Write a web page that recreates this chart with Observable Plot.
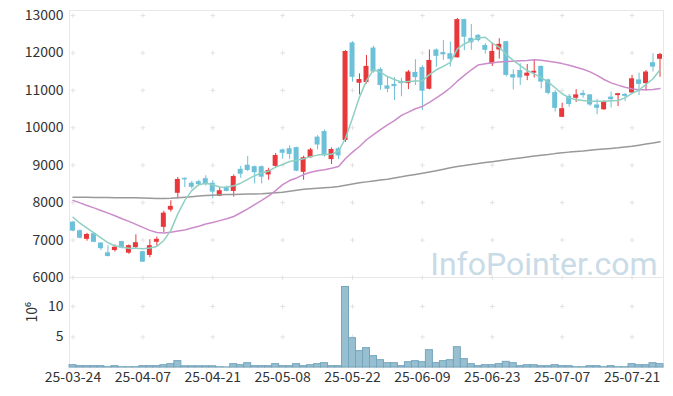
<!DOCTYPE html>
<html><head><meta charset="utf-8">
<script src="https://cdn.jsdelivr.net/npm/d3@7"></script>
<script src="https://cdn.jsdelivr.net/npm/@observablehq/plot@0.6"></script>
<style>
body{margin:0;background:#fff;}
#wrap{position:relative;width:673px;height:396px;overflow:hidden;background:#fff;}
#price,#vol{position:absolute;left:0;}
#price{top:0;z-index:2;}
#vol{top:277px;z-index:1;}
svg{overflow:visible;}
</style></head><body>
<div id="wrap"><div id="vol"></div><div id="price"></div></div>
<script>
const dates = ["25-03-24","25-03-25","25-03-26","25-03-27","25-03-28","25-03-31","25-04-01","25-04-02","25-04-03","25-04-04",
"25-04-07","25-04-08","25-04-09","25-04-10","25-04-11","25-04-14","25-04-15","25-04-16","25-04-17","25-04-18",
"25-04-21","25-04-22","25-04-23","25-04-24","25-04-25","25-04-28","25-04-29","25-04-30","25-05-02","25-05-07",
"25-05-08","25-05-09","25-05-12","25-05-13","25-05-14","25-05-15","25-05-16","25-05-19","25-05-20","25-05-21",
"25-05-22","25-05-23","25-05-26","25-05-27","25-05-28","25-05-29","25-05-30","25-06-02","25-06-04","25-06-05",
"25-06-09","25-06-10","25-06-11","25-06-12","25-06-13","25-06-16","25-06-17","25-06-18","25-06-19","25-06-20",
"25-06-23","25-06-24","25-06-25","25-06-26","25-06-27","25-06-30","25-07-01","25-07-02","25-07-03","25-07-04",
"25-07-07","25-07-08","25-07-09","25-07-10","25-07-11","25-07-14","25-07-15","25-07-16","25-07-17","25-07-18",
"25-07-21","25-07-22","25-07-23","25-07-24","25-07-25"];
const open = [7480,7250,7020,7170,6920,6660,6720,6960,6650,6800,6690,6590,6940,7340,7800,8250,8650,8520,8560,8640,
8520,8170,8410,8300,8890,9000,8960,8960,8740,8970,9410,9440,9470,8810,9200,9750,9900,9150,9440,9660,
12270,11190,11210,12130,11560,11120,11160,11240,11180,11480,11610,11030,12080,12010,11980,11870,12890,12390,12470,12200,
11710,12080,12300,11420,11530,11380,11460,11640,11280,10940,10280,10840,10790,10920,10880,10610,10480,10820,10860,10890,
10930,11280,11180,11740,11830];
const close = [7240,7050,7150,6940,6770,6560,6810,6790,6850,6930,6410,6850,7020,7720,7900,8620,8610,8410,8480,8480,
8280,8320,8300,8700,8760,8860,8800,8680,8860,9260,9320,9290,8840,9200,9410,9540,9250,9420,9250,12040,
11350,11290,11640,11490,11130,11030,11100,11180,11490,11340,10980,11800,11910,11950,11830,12890,12420,12270,12330,12070,
12040,12230,11400,11330,11330,11460,11510,11220,10920,10520,10510,10620,10880,10860,10610,10520,10700,10750,10910,10840,
11310,11160,11490,11620,11960];
const high = [7500,7270,7180,7180,6930,6850,6870,6970,6870,7140,6700,7010,7080,7770,8050,8670,8660,8570,8600,8720,
8590,8410,8440,8740,8970,9230,8980,8980,8920,9310,9430,9520,9480,9240,9450,9790,9940,9460,9470,12060,
12300,11440,11930,12180,11600,11370,11340,11320,11530,11820,11660,12080,12110,12330,12290,12920,12900,12760,12490,12250,
12260,12380,12310,11550,11710,11690,11820,11650,11300,11000,10660,10890,11020,11000,10890,10760,10720,10950,10920,10920,
11400,11460,11530,11980,11990];
const low = [7220,7030,6970,6930,6720,6550,6680,6760,6620,6770,6400,6530,6840,7200,7750,8100,8400,8360,8450,8440,
8100,8160,8290,8150,8650,8830,8500,8500,8600,8920,9160,9160,8830,8600,9190,9410,9220,9020,9150,9610,
11220,10880,11170,11460,11000,10940,10730,10830,11020,11130,10460,11010,11620,11800,11620,11860,12060,12070,12290,11970,
11640,11840,11360,11010,11130,11260,11330,11040,10880,10420,10270,10550,10680,10790,10570,10350,10470,10530,10570,10700,
10910,10860,10980,11490,11350];
// volume, millions of shares
const volume = [0.38,0.22,0.22,0.22,0.22,0.05,0.22,0.05,0.05,0.05,0.22,0.22,0.22,0.38,0.55,1.04,0.2,0.2,0.2,0.2,
0.2,0.05,0.02,0.55,0.38,0.71,0.22,0.22,0.22,0.55,0.22,0.22,0.55,0.22,0.38,0.55,0.71,0.22,0.22,13.2,
4.8,2.68,3.17,1.86,1.2,0.71,0.71,0.22,0.87,1.04,0.87,2.84,0.71,1.04,1.2,3.33,1.37,0.55,0.22,0.38,
0.38,0.55,0.93,0.71,0.22,0.38,0.38,0.22,0.22,0.38,0.22,0.22,0.05,0.05,0.22,0.22,0.05,0.22,0.05,0.05,
0.55,0.38,0.38,0.71,0.55];
const ma5 = [7610,7450,7320,7190,7060,6930,6850,6810,6780,6780,6770,6790,6830,6990,7260,7700,8060,8320,8480,8520,
8480,8420,8410,8450,8520,8620,8720,8800,8840,8950,9020,9100,9130,9170,9230,9270,9290,9290,9380,9720,
10260,10820,11260,11550,11490,11370,11290,11220,11240,11250,11260,11420,11550,11640,11750,12110,12240,12330,12400,12420,
12260,12150,11960,11800,11660,11530,11440,11340,11220,11070,10910,10800,10750,10730,10710,10710,10710,10720,10730,10800,
10920,11010,11160,11310,11550];
const ma20 = [8060,7995,7925,7860,7790,7720,7650,7570,7500,7420,7340,7260,7200,7190,7210,7240,7270,7320,7370,7430,
7470,7520,7570,7630,7730,7835,7950,8060,8180,8320,8480,8590,8660,8750,8810,8850,8880,8920,8965,9180,
9350,9500,9680,9820,9950,10080,10190,10330,10420,10510,10570,10680,10800,10925,11070,11245,11400,11550,11680,11710,
11735,11760,11770,11780,11790,11800,11815,11805,11780,11750,11715,11670,11620,11565,11495,11400,11290,11200,11140,11085,
11040,11015,11015,11025,11050];
const ma120 = [8145,8143,8141,8139,8137,8135,8133,8131,8130,8128,8126,8120,8110,8110,8115,8130,8145,8160,8175,8190,
8200,8209,8215,8220,8227,8230,8233,8236,8250,8265,8280,8305,8330,8355,8370,8385,8396,8410,8430,8465,
8500,8530,8555,8580,8605,8628,8660,8690,8725,8755,8788,8820,8855,8890,8930,8965,8990,9020,9045,9070,
9095,9120,9145,9170,9195,9220,9245,9265,9285,9310,9330,9350,9365,9380,9400,9420,9435,9450,9465,9485,
9505,9535,9565,9595,9630];
const priceTicks = [6000,7000,8000,9000,10000,11000,12000,13000];
const volumeTicks = [5,10];
const dateTicks = dates.filter((d, i) => i % 10 === 0);
const watermark = "InfoPointer.com";
const volumeLabel = "10⁶";

const UP = "#e8383c", DOWN = "#6cc0d8";
const rows = dates.map((d, i) => ({date: d, open: open[i], high: high[i], low: low[i], close: close[i],
  volume: volume[i], ma5: ma5[i], ma20: ma20[i], ma120: ma120[i],
  color: close[i] >= open[i] ? UP : DOWN}));
const FONT = "'Noto Sans CJK KR','Noto Sans',sans-serif";
const gridPrice = dateTicks.flatMap(x => priceTicks.map(y => ({x, y})));
const gridVol = dateTicks.flatMap(x => volumeTicks.map(y => ({x, y})));

const price = Plot.plot({
  width: 673, height: 285, marginTop: 10, marginBottom: 8, marginLeft: 69, marginRight: 10,
  style: {fontFamily: FONT, fontSize: "14px", color: "#333", background: "transparent", overflow: "visible"},
  x: {type: "band", domain: dates, padding: 0, axis: null},
  y: {domain: [6000, 13134], ticks: priceTicks, tickSize: 0, tickPadding: 6, label: null, tickFormat: d => String(d)},
  marks: [
    Plot.frame({stroke: "#e8e8e8"}),
    Plot.dot(gridPrice, {x: "x", y: "y", symbol: "plus", r: 1.6, stroke: "#e2e2e2", strokeWidth: 1}),
    Plot.text([watermark], {frameAnchor: "bottom-right", dx: -6, dy: -3, fontSize: 32, fill: "#c9dbe6", fontFamily: "Roboto", fontWeight: 400}),
    Plot.ruleX(rows, {x: "date", y1: "low", y2: "high", stroke: "color", strokeWidth: 1}),
    Plot.barY(rows, {x: "date", y1: "open", y2: "close", fill: "color", insetLeft: 1, insetRight: 1}),
    Plot.line(rows, {x: "date", y: "ma120", stroke: "#999999", strokeWidth: 1.5}),
    Plot.line(rows, {x: "date", y: "ma20", stroke: "#cc8ccb", strokeWidth: 1.5}),
    Plot.line(rows, {x: "date", y: "ma5", stroke: "#8fd0c3", strokeWidth: 1.5})
  ]
});
document.getElementById("price").appendChild(price);

const vol = Plot.plot({
  width: 673, height: 119, marginTop: 0, marginBottom: 29, marginLeft: 69, marginRight: 10,
  style: {fontFamily: FONT, fontSize: "14px", color: "#333", background: "transparent", overflow: "visible"},
  x: {type: "band", domain: dates, padding: 0, axis: null},
  y: {domain: [0, 14.75], ticks: volumeTicks, tickSize: 0, tickPadding: 6, label: null},
  marks: [
    Plot.frame({stroke: "#e8e8e8"}),
    Plot.dot(gridVol, {x: "x", y: "y", symbol: "plus", r: 1.6, stroke: "#e2e2e2", strokeWidth: 1}),
    Plot.barY(rows, {x: "date", y: "volume", fill: "#98bfd0", stroke: "#74a5be", strokeWidth: 1}),
    Plot.axisX(dateTicks, {tickSize: 0, tickPadding: 5, label: null, fontSize: 14}),
    Plot.text([volumeLabel], {frameAnchor: "left", dx: -37, rotate: -90, fontSize: 14, fill: "#333"})
  ]
});
document.getElementById("vol").appendChild(vol);
</script>
</body></html>
